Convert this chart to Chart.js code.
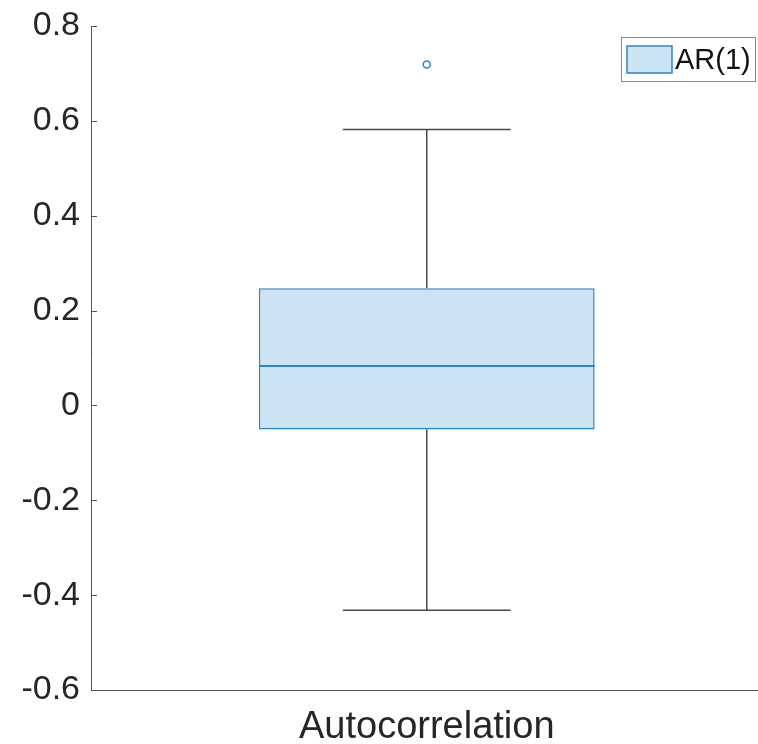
<!DOCTYPE html>
<html>
<head>
<meta charset="utf-8">
<script src="https://cdn.jsdelivr.net/npm/chart.js@4/dist/chart.umd.min.js"></script>
<style>
  html, body { margin: 0; padding: 0; overflow: hidden; background: #fff; width: 758px; height: 744px; }
  /* the plot box runs a little past the right edge of the picture */
  #wrap { width: 768px; height: 744px; }
  #chart { display: block; width: 768px; height: 744px; }
</style>
</head>
<body>
<div id="wrap"><canvas id="chart" width="768" height="744"></canvas></div>
<script>
// box plot numbers
const categories = ['Autocorrelation'];
const seriesName = 'AR(1)';
const q1 = [-0.051];
const median = [0.083];
const q3 = [0.247];
const whiskerLow = [-0.432];
const whiskerHigh = [0.582];
const outliers = [0.719];
const yTicks = [-0.6, -0.4, -0.2, 0, 0.2, 0.4, 0.6, 0.8];

const boxFill = '#cce3f3';
const boxEdge = '#2a86cc';
const axisColor = '#555555';
const textColor = '#262626';
const fontFamily = '"Liberation Sans", Arial, sans-serif';

// whiskers, median, inward ticks and the legend
const boxExtras = {
  id: 'boxExtras',
  afterDatasetsDraw(chart) {
    const ctx = chart.ctx;
    const y = chart.scales.y;
    const bars = chart.getDatasetMeta(0).data;
    ctx.save();
    bars.forEach((bar, i) => {
      const cx = bar.x;
      const half = bar.width / 2;
      // whiskers
      ctx.strokeStyle = '#4a4a4a';
      ctx.lineWidth = 1.5;
      ctx.beginPath();
      ctx.moveTo(cx, y.getPixelForValue(q3[i]));
      ctx.lineTo(cx, y.getPixelForValue(whiskerHigh[i]));
      ctx.moveTo(cx, y.getPixelForValue(q1[i]));
      ctx.lineTo(cx, y.getPixelForValue(whiskerLow[i]));
      ctx.moveTo(cx - half / 2, y.getPixelForValue(whiskerHigh[i]));
      ctx.lineTo(cx + half / 2, y.getPixelForValue(whiskerHigh[i]));
      ctx.moveTo(cx - half / 2, y.getPixelForValue(whiskerLow[i]));
      ctx.lineTo(cx + half / 2, y.getPixelForValue(whiskerLow[i]));
      ctx.stroke();
      // median
      ctx.strokeStyle = boxEdge;
      ctx.lineWidth = 2;
      ctx.beginPath();
      ctx.moveTo(cx - half, y.getPixelForValue(median[i]));
      ctx.lineTo(cx + half, y.getPixelForValue(median[i]));
      ctx.stroke();
    });

    // inward tick marks on y axis
    ctx.strokeStyle = axisColor;
    ctx.lineWidth = 1;
    ctx.beginPath();
    y.ticks.forEach(t => {
      const py = Math.round(y.getPixelForValue(t.value)) + 0.5;
      ctx.moveTo(chart.chartArea.left, py);
      ctx.lineTo(chart.chartArea.left + 6, py);
    });
    ctx.stroke();

    // legend
    const lx = 621.5, ly = 37.5, lw = 134, lh = 44;
    ctx.fillStyle = '#fff';
    ctx.fillRect(lx, ly, lw, lh);
    ctx.strokeStyle = '#8a8a8a';
    ctx.lineWidth = 1;
    ctx.strokeRect(lx, ly, lw, lh);
    ctx.fillStyle = boxFill;
    ctx.fillRect(627, 46, 45, 27);
    ctx.strokeStyle = boxEdge;
    ctx.lineWidth = 1.5;
    ctx.strokeRect(627, 46, 45, 27);
    ctx.fillStyle = '#111';
    ctx.font = '29px ' + fontFamily;
    ctx.textBaseline = 'middle';
    ctx.textAlign = 'left';
    ctx.fillText(seriesName, 675, 61);
    ctx.restore();
  }
};

new Chart(document.getElementById('chart'), {
  type: 'bar',
  data: {
    labels: categories,
    datasets: [
      {
        label: seriesName,
        data: categories.map((c, i) => [q1[i], q3[i]]),
        backgroundColor: boxFill,
        borderColor: boxEdge,
        borderWidth: 1.5,
        borderSkipped: false,
        barPercentage: 0.5,
        categoryPercentage: 1.0
      },
      {
        type: 'line',
        label: 'outliers',
        data: outliers,
        showLine: false,
        pointRadius: 3.5,
        pointBorderWidth: 1.5,
        pointBorderColor: boxEdge,
        pointBackgroundColor: '#fff'
      }
    ]
  },
  options: {
    responsive: false,
    animation: false,
    devicePixelRatio: 1,
    layout: { padding: { top: 26, right: 0, left: 0, bottom: 0 } },
    plugins: {
      legend: { display: false },
      tooltip: { enabled: false }
    },
    scales: {
      x: {
        grid: { display: false },
        border: { display: true, color: axisColor, width: 1 },
        ticks: {
          color: textColor,
          font: { family: fontFamily, size: 38 },
          padding: 7,
          maxRotation: 0
        },
        afterFit(scale) { scale.height = 54; }
      },
      y: {
        min: -0.6,
        max: 0.8,
        grid: { display: false },
        border: { display: true, color: axisColor, width: 1 },
        afterBuildTicks(scale) {
          scale.ticks = yTicks.map(v => ({ value: v }));
        },
        ticks: {
          color: textColor,
          font: { family: fontFamily, size: 34 },
          padding: 3,
          callback: v => String(+v.toFixed(1))
        },
        afterFit(scale) { scale.width = 91; }
      }
    }
  },
  plugins: [boxExtras]
});
</script>
</body>
</html>
